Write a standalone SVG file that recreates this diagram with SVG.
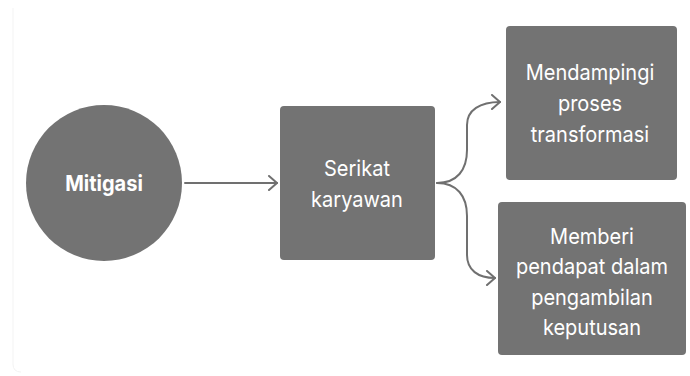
<svg xmlns="http://www.w3.org/2000/svg" width="690" height="376" viewBox="0 0 690 376">
  <style>
    .node { fill: #737373; }
    .label { fill: #ffffff; font-family: Inter, "Noto Sans", "Liberation Sans", sans-serif; font-size: 20px; text-anchor: middle; }
    .bold { font-weight: 700; }
    .edge { fill: none; stroke: #707070; stroke-width: 2; stroke-linecap: round; stroke-linejoin: round; }
  </style>
  <defs>
    <marker id="chevron" viewBox="0 0 12 16" refX="10" refY="8" markerWidth="12" markerHeight="16" markerUnits="userSpaceOnUse" orient="auto">
      <path d="M2,1 L10,8 L2,15" fill="none" stroke="#707070" stroke-width="2" stroke-linecap="round" stroke-linejoin="round"/>
    </marker>
  </defs>
  <rect width="690" height="376" fill="#ffffff"/>
  <!-- faint frame edge -->
  <path d="M13,8 L13,364 Q13,372 21,372" fill="none" stroke="#f3f3f3" stroke-width="1"/>

  <g id="connectors">
    <path class="edge" d="M185,183 L277,183" marker-end="url(#chevron)"/>
    <path class="edge" d="M437,183 C457,183 467,170 467,150 L467,125 C467,110 480,102 500,102" marker-end="url(#chevron)"/>
    <path class="edge" d="M437,183 C457,183 467,196 467,216 L467,255 C467,270 478,278 495,278" marker-end="url(#chevron)"/>
  </g>

  <g id="mitigasi">
    <circle class="node" cx="104" cy="183" r="78"/>
    <text class="label bold" transform="translate(104,191) scale(1,1.1)">Mitigasi</text>
  </g>

  <g id="serikat-karyawan">
    <rect class="node" x="280" y="106" width="155" height="154" rx="4"/>
    <text class="label" transform="translate(357,176) scale(1,1.1)">Serikat</text>
    <text class="label" transform="translate(357,207) scale(1,1.1)">karyawan</text>
  </g>

  <g id="mendampingi">
    <rect class="node" x="506" y="26" width="171" height="154" rx="4"/>
    <text class="label" transform="translate(590,80) scale(1,1.1)">Mendampingi</text>
    <text class="label" transform="translate(590,111) scale(1,1.1)">proses</text>
    <text class="label" transform="translate(590,142) scale(1,1.1)">transformasi</text>
  </g>

  <g id="memberi-pendapat">
    <rect class="node" x="498" y="202" width="188" height="153" rx="4"/>
    <text class="label" transform="translate(592,244) scale(1,1.1)">Memberi</text>
    <text class="label" transform="translate(592,274) scale(1,1.1)">pendapat dalam</text>
    <text class="label" transform="translate(592,305) scale(1,1.1)">pengambilan</text>
    <text class="label" transform="translate(592,335) scale(1,1.1)">keputusan</text>
  </g>
</svg>
